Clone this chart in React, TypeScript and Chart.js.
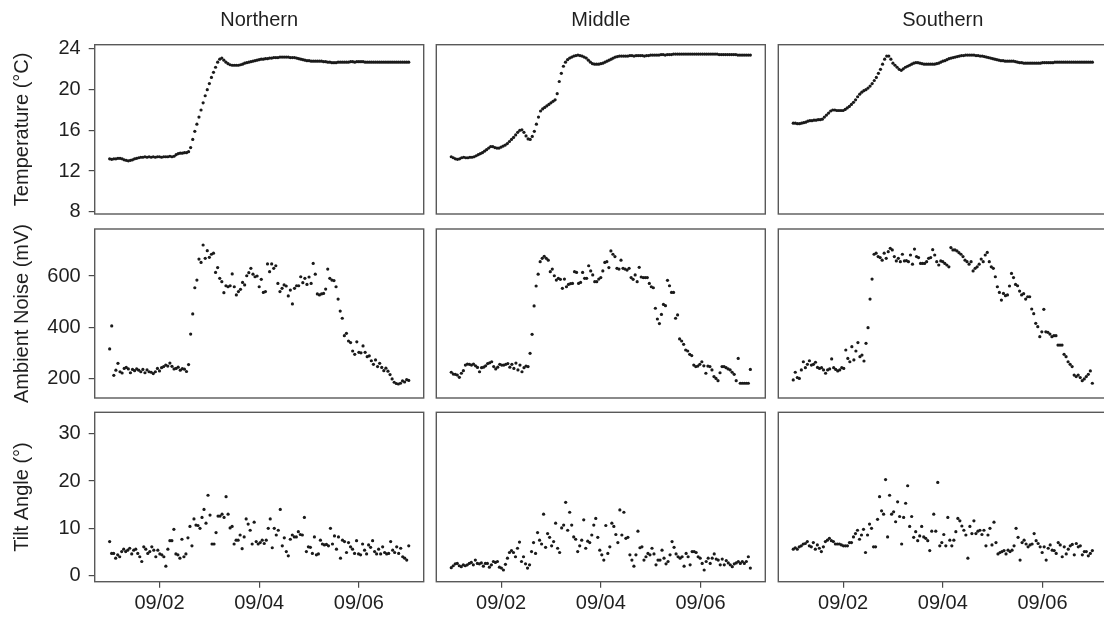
import React, { useEffect, useRef } from 'react';
import { Chart, registerables } from 'chart.js';

Chart.register(...registerables);

// ---------- data ----------
const regions = ['Northern', 'Middle', 'Southern'];
const yTitles = ['Temperature (°C)', 'Ambient Noise (mV)', 'Tilt Angle (°)'];
const xTickHours = [24, 72, 120]; // hours after 09/01 00:00
const xTickLabels = ['09/02', '09/04', '09/06'];
const tempTicks = [8, 12, 16, 20, 24];
const noiseTicks = [200, 400, 600];
const tiltTicks = [0, 10, 20, 30];
const spanHours = 144; // 09/01 00:00 .. 09/07 00:00

const northTemp = [
  13.2, 13.15, 13.2, 13.2, 13.25, 13.25, 13.2, 13.1, 13.05, 13.0,
  13.05, 13.1, 13.2, 13.25, 13.3, 13.35, 13.35,
  13.4, 13.35, 13.4, 13.35, 13.4, 13.35, 13.4, 13.4, 13.35, 13.4, 13.4, 13.4, 13.45, 13.4, 13.45,
  13.6, 13.7, 13.75, 13.75, 13.8, 13.8, 13.9,
  14.3, 15.1, 15.9, 16.6, 17.3, 18.0, 18.7, 19.4, 20.0, 20.6, 21.2, 21.7, 22.2, 22.7, 23.0, 23.1,
  22.9, 22.7, 22.55, 22.45, 22.4, 22.4, 22.4, 22.4, 22.45, 22.5, 22.6, 22.65,
  22.7, 22.75, 22.8, 22.85, 22.9, 22.95, 23.0, 23.0, 23.05, 23.05, 23.1, 23.1, 23.15, 23.15, 23.15, 23.2,
  23.2, 23.2, 23.2, 23.2, 23.15, 23.15, 23.15, 23.1, 23.05, 23.0, 22.95, 22.9, 22.85,
  22.85, 22.8, 22.8, 22.8, 22.8, 22.8, 22.8, 22.75, 22.75, 22.7, 22.7, 22.65, 22.65,
  22.65, 22.7, 22.7, 22.7, 22.7, 22.7, 22.7, 22.75, 22.75, 22.7, 22.75, 22.75, 22.75, 22.75, 22.7, 22.7,
  22.7, 22.7, 22.7, 22.7, 22.7, 22.7, 22.7, 22.7, 22.7, 22.7, 22.7, 22.7, 22.7, 22.7, 22.7, 22.7,
  22.7, 22.7, 22.7, 22.7,
];
const middleTemp = [
  13.4, 13.3, 13.2, 13.15, 13.2, 13.3, 13.35, 13.3, 13.3, 13.35, 13.35,
  13.4, 13.5, 13.6, 13.7, 13.8, 13.95, 14.1, 14.25, 14.4,
  14.4, 14.3, 14.25, 14.25, 14.35, 14.45, 14.55,
  14.7, 14.9, 15.1, 15.3, 15.55, 15.8, 16.0,
  16.05, 15.8, 15.45, 15.15, 15.1, 15.4, 15.9,
  16.6, 17.3, 17.9, 18.1, 18.25, 18.4, 18.55, 18.7, 18.85, 19.0, 19.6,
  20.8, 21.6, 22.3, 22.7, 22.95, 23.1, 23.2, 23.3, 23.35, 23.4,
  23.35, 23.3, 23.2, 23.1, 22.9, 22.7, 22.55, 22.5, 22.5,
  22.5, 22.55, 22.6, 22.7, 22.8, 22.9, 23.0, 23.1, 23.2, 23.25, 23.3,
  23.3, 23.3, 23.3, 23.3, 23.35, 23.35, 23.3, 23.35, 23.35, 23.35, 23.35, 23.3, 23.35,
  23.35, 23.4, 23.4, 23.4, 23.4, 23.4, 23.45, 23.45, 23.4, 23.45, 23.45, 23.45, 23.5, 23.5, 23.5, 23.5,
  23.5, 23.5, 23.5, 23.5, 23.5, 23.5, 23.5, 23.5, 23.5, 23.5, 23.5, 23.5, 23.5, 23.5, 23.5, 23.5, 23.5,
  23.5, 23.45, 23.45, 23.45, 23.45, 23.45, 23.45, 23.45, 23.45, 23.45, 23.4, 23.4, 23.4, 23.4, 23.4,
  23.4, 23.4,
];
const southTemp = [
  16.7, 16.7, 16.65, 16.65, 16.7, 16.75, 16.8,
  16.9, 16.95, 16.95, 17.0, 17.0, 17.05, 17.05, 17.1,
  17.3, 17.5, 17.7, 17.9, 18.0, 18.0, 17.95,
  17.95, 17.95, 17.95, 18.05, 18.2, 18.35,
  18.55, 18.75, 19.0, 19.3, 19.55, 19.75, 19.9, 20.0,
  20.15, 20.35, 20.6, 20.9, 21.2, 21.6, 22.0, 22.5, 23.0,
  23.3, 23.3, 23.0, 22.6,
  22.4, 22.2, 22.0, 21.9, 22.05, 22.2,
  22.3, 22.4, 22.5, 22.6, 22.65, 22.65,
  22.6, 22.55, 22.5, 22.5, 22.5, 22.5, 22.5, 22.5, 22.55, 22.6,
  22.7, 22.8, 22.85, 22.95, 23.05, 23.1, 23.15, 23.2, 23.25, 23.3, 23.35, 23.35, 23.4, 23.4,
  23.4, 23.4, 23.4, 23.35, 23.35, 23.3, 23.3, 23.25, 23.2, 23.15, 23.1,
  23.05, 23.0, 22.95, 22.9, 22.85, 22.85, 22.8, 22.8, 22.8, 22.8, 22.8,
  22.75, 22.7, 22.65, 22.65, 22.6, 22.6, 22.6, 22.6, 22.6, 22.6, 22.6,
  22.6, 22.6, 22.65, 22.65, 22.65, 22.65, 22.65, 22.65, 22.7, 22.7, 22.7, 22.7, 22.7, 22.7,
  22.7, 22.7, 22.7, 22.7, 22.7, 22.7, 22.7, 22.7, 22.7, 22.7, 22.7, 22.7, 22.7,
];

const northNoise = [
  315, 405, 212, 232, 259, 226, 221, 239, 243, 237, 222, 235, 230, 237, 232, 226, 235, 222, 233, 226,
  224, 219, 226, 239, 229, 242, 246, 252, 248, 260, 247, 237, 239, 244,
  232, 238, 236, 227, 254,
  373, 452, 554, 584, 666, 653, 721, 669, 699, 673,
  685, 689, 614, 633, 591, 578, 535, 562, 558, 562,
  608, 558, 526, 539, 548, 575, 565, 601, 613, 630,
  607, 597, 600, 558, 587, 536, 539, 647, 617, 647,
  630, 640, 571, 539, 552, 565, 561, 522, 545, 491,
  552, 562, 562, 597, 574, 591, 567, 596, 571, 649,
  607, 530, 526, 530, 532, 549, 627, 591, 584, 582,
  558, 510, 463, 435, 367, 376, 346, 340, 307, 294,
  343, 302, 300, 327, 302, 285, 288, 269, 255, 272,
  246, 259, 243, 230,
  240, 228, 215, 198, 185, 180, 178, 181, 190, 186, 195, 192,
];
const middleNoise = [
  224, 217, 216, 213, 204, 220, 230, 252, 256, 255, 252, 256, 249, 243, 226, 242, 244, 249, 258, 261,
  265, 246, 237, 244, 255, 252, 252, 255, 258, 244, 255, 239, 260, 233, 252, 226, 242, 248, 246,
  298, 372, 483, 561, 607, 656, 669, 677, 669, 662,
  617, 627, 601, 584, 591, 587, 552, 588, 558, 567,
  570, 571, 617, 614, 571, 575, 614, 591, 591, 640,
  620, 604, 578, 578, 588, 594, 620, 653, 656, 633,
  698, 685, 676, 630, 627, 662, 630, 627, 623, 630,
  594, 587, 604, 578, 634, 596, 594, 594, 594, 571,
  558, 554, 474, 432, 414, 450, 489, 484, 583, 562,
  536, 536, 435, 448, 354, 346, 333, 311, 307, 294,
  289, 252, 246, 248, 255, 265, 249, 220, 248, 246,
  233, 207, 200, 191, 222, 246, 246, 242, 237, 233,
  224, 216, 191, 278, 181, 181, 181, 181, 181, 235,
];
const southNoise = [
  194, 224, 203, 200, 233, 265, 242, 255, 269, 252,
  255, 263, 243, 239, 242, 233, 220, 233, 237, 276,
  242, 235, 229, 233, 242, 239, 311, 278, 265, 324,
  272, 307, 340, 285, 291, 268, 337, 398, 510, 588,
  685, 689, 676, 672, 662, 689, 669, 695, 708, 702,
  676, 659, 669, 656, 685, 659, 660, 656, 682, 646,
  705, 676, 672, 649, 649, 649, 656, 669, 672, 703,
  682, 656, 643, 659, 656, 649, 643, 636, 711, 702,
  702, 698, 691, 685, 676, 662, 656, 646, 656, 620,
  630, 636, 646, 666, 656, 682, 692, 656, 636, 630,
  597, 558, 536, 506, 532, 523, 526, 561, 610, 594,
  567, 562, 541, 526, 531, 510, 519, 519, 471, 453,
  415, 402, 363, 382, 470, 382, 380, 373, 363, 367,
  367, 330, 330, 330, 294, 285, 265, 255, 246, 213,
  207, 213, 203, 191, 198, 207, 216, 229, 181,
];

const northTilt = [
  7.2, 4.7, 4.7, 3.7, 4.4, 4.0, 5.1, 5.6, 5.1, 5.4,
  5.8, 4.6, 5.4, 5.6, 4.7, 4.0, 3.0, 6.1, 5.6, 4.7,
  5.1, 6.1, 5.4, 4.0, 5.4, 4.6, 4.4, 4.0, 2.0, 5.6,
  7.4, 7.4, 9.8, 4.6, 4.4, 3.7, 7.7, 4.0, 4.6, 8.0,
  10.4, 6.3, 12.0, 10.7, 10.6, 10.0, 12.3, 14.0, 11.1, 17.0,
  12.8, 6.7, 6.7, 9.1, 12.6, 12.6, 13.0, 12.3, 16.7, 13.0,
  10.1, 10.4, 6.7, 7.5, 7.5, 8.6, 5.7, 8.2, 12.0, 10.9,
  9.6, 6.7, 11.3, 7.2, 6.7, 7.0, 7.5, 6.8, 7.5, 10.0,
  12.0, 5.9, 10.0, 8.6, 9.6, 14.0, 6.3, 8.0, 5.1, 4.2,
  7.7, 8.6, 8.2, 8.2, 9.3, 8.7, 8.6, 12.3, 5.1, 6.1,
  6.0, 4.7, 8.2, 4.4, 4.6, 7.5, 6.7, 6.5, 6.6, 6.3,
  10.0, 6.7, 8.4, 5.6, 8.2, 3.7, 7.5, 7.2, 4.9, 7.0,
  6.1, 5.6, 4.7, 7.4, 4.6, 4.4, 6.7, 5.4, 4.6, 6.5,
  6.0, 7.4, 5.1, 4.6, 5.6, 4.6, 6.1, 4.9, 4.6, 4.7,
  7.2, 5.4, 4.9, 6.1, 4.7, 5.8, 4.0, 3.7, 3.3, 6.3,
];
const middleTilt = [
  1.7, 2.1, 2.5, 2.6, 2.1, 1.9, 2.3, 2.1, 2.3, 2.6,
  2.8, 2.3, 3.3, 2.6, 2.5, 2.7, 2.0, 2.6, 2.6, 1.8,
  2.3, 3.0, 2.8, 3.0, 1.8, 1.6, 1.2, 2.4, 3.7, 4.9,
  5.3, 4.9, 4.0, 5.8, 7.1, 3.0, 4.0, 2.5, 1.6, 2.3,
  5.1, 7.0, 4.7, 9.1, 7.5, 6.7, 13.0, 6.0, 8.9, 8.1,
  6.3, 7.2, 11.1, 5.8, 4.9, 10.1, 10.7, 15.5, 9.6, 13.4,
  10.7, 8.2, 7.7, 5.1, 6.3, 7.5, 11.8, 5.8, 7.3, 7.0,
  8.6, 10.7, 12.1, 8.1, 5.4, 4.4, 3.3, 10.6, 4.7, 6.1,
  11.1, 10.4, 8.7, 7.0, 13.9, 8.6, 13.4, 7.9, 8.1, 4.4,
  3.3, 2.0, 4.4, 9.4, 5.9, 6.1, 3.3, 4.0, 4.7, 4.4,
  5.8, 4.6, 2.3, 3.3, 3.3, 5.4, 3.7, 2.5, 3.0, 4.4,
  7.2, 6.0, 4.6, 4.0, 3.7, 4.0, 2.0, 4.7, 4.0, 2.3,
  5.1, 5.1, 4.9, 4.0, 3.7, 2.6, 1.2, 3.0, 3.7, 2.6,
  3.7, 4.6, 3.5, 3.3, 2.3, 3.5, 2.3, 3.2, 2.7, 2.3,
  1.9, 2.5, 2.7, 3.0, 2.6, 3.0, 2.6, 3.0, 4.0, 1.6,
];
const southTilt = [
  5.6, 5.9, 5.6, 6.1, 6.3, 6.7, 6.8, 7.2, 6.3, 6.1,
  7.0, 5.6, 6.5, 5.8, 5.1, 6.1, 7.2, 7.5, 7.9, 7.4,
  7.2, 6.7, 6.7, 6.7, 6.5, 6.3, 6.3, 6.3, 7.0, 7.0,
  8.2, 8.9, 9.6, 7.7, 8.6, 9.8, 4.9, 8.6, 10.9, 10.0,
  6.1, 6.1, 11.9, 16.7, 13.7, 13.0, 20.3, 8.2, 17.0, 13.0,
  13.5, 11.4, 15.6, 12.5, 6.7, 12.3, 15.3, 19.0, 10.4, 12.5,
  8.1, 9.3, 7.4, 8.4, 10.4, 8.2, 7.9, 7.4, 5.3, 9.4,
  13.0, 9.4, 19.7, 6.3, 7.0, 8.7, 6.3, 12.3, 7.5, 6.3,
  7.5, 9.3, 12.1, 11.6, 10.5, 9.6, 8.6, 3.7, 10.4, 8.9,
  11.6, 8.9, 9.4, 9.6, 8.7, 9.6, 6.3, 8.6, 10.0, 6.5,
  11.3, 7.0, 4.6, 4.9, 5.1, 5.3, 4.6, 5.4, 5.1, 5.4,
  6.3, 10.0, 8.1, 3.3, 7.0, 7.5, 6.7, 6.1, 6.5, 6.7,
  8.9, 7.4, 6.8, 6.1, 4.9, 6.1, 3.3, 5.8, 6.5, 5.4,
  5.3, 4.7, 7.0, 6.5, 4.0, 6.1, 4.6, 5.6, 6.3, 6.6,
  4.4, 6.8, 6.1, 6.3, 4.4, 5.1, 5.1, 4.2, 4.7, 5.3,
];

const series = [
  [northTemp, middleTemp, southTemp],
  [northNoise, middleNoise, southNoise],
  [northTilt, middleTilt, southTilt],
];
const rowTicks = [tempTicks, noiseTicks, tiltTicks];

// ---------- layout / style ----------
const CW = 1112;
const CH = 617;
const COL_L = [94.7, 436.3, 778.3];
const PANEL_W = 329;
const ROW_T = [44.7, 229, 412.3];
const ROW_B = [214, 398, 581.7];
const Y_RANGES = [
  [7.77, 24.42],
  [123.4, 783.6],
  [-1.27, 34.52],
];
const X_MIN = -7.2;
const X_MAX = 151.2;
const FONT = "'Liberation Sans', Arial, Helvetica, sans-serif";
const TEXT = '#1f1f1f';
const FS = 20;
const STRIP_TOP = 8;

const borderPlugin = {
  id: 'panelBorder',
  afterDraw(chart: any) {
    const { ctx, chartArea: a } = chart;
    ctx.save();
    ctx.strokeStyle = '#595959';
    ctx.lineWidth = 1.4;
    ctx.strokeRect(a.left, a.top, a.right - a.left, a.bottom - a.top);
    ctx.restore();
  },
};

function makeConfig(r: number, c: number): any {
  const vals = series[r][c];
  const n = vals.length;
  const pts = vals.map((v, i) => ({ x: (i * spanHours) / (n - 1), y: v }));
  const isLeft = c === 0;
  const isTop = r === 0;
  const isBottom = r === 2;
  const L = COL_L[c];
  const R = L + PANEL_W;
  const T = ROW_T[r];
  const B = ROW_B[r];
  const lh = FS * 1.2;
  return {
    type: 'scatter',
    data: {
      datasets: [
        {
          data: pts,
          pointRadius: 1.6,
          pointHoverRadius: 0,
          pointBorderWidth: 0,
          backgroundColor: '#1a1a1a',
          borderColor: '#1a1a1a',
        },
      ],
    },
    plugins: [borderPlugin],
    options: {
      responsive: false,
      animation: false,
      events: [],
      layout: {
        padding: {
          left: isLeft ? 0 : L,
          right: CW - R,
          top: isTop ? STRIP_TOP : T,
          bottom: isBottom ? 0 : CH - B,
        },
      },
      plugins: {
        legend: { display: false },
        tooltip: { enabled: false },
        title: {
          display: isTop,
          text: regions[c],
          fullSize: false,
          color: TEXT,
          font: { family: FONT, size: FS, weight: 'normal', lineHeight: 1.2 },
          padding: { top: 0, bottom: T - STRIP_TOP - lh },
        },
      },
      scales: {
        x: {
          type: 'linear',
          min: X_MIN,
          max: X_MAX,
          display: isBottom,
          afterFit: (s: any) => {
            s.height = isBottom ? CH - B : 0;
          },
          afterBuildTicks: (s: any) => {
            s.ticks = xTickHours.map((v) => ({ value: v }));
          },
          grid: {
            display: true,
            drawOnChartArea: false,
            drawTicks: true,
            tickLength: 6,
            color: '#4a4a4a',
            lineWidth: 1.2,
          },
          border: { display: false },
          ticks: {
            autoSkip: false,
            maxRotation: 0,
            padding: 4,
            color: TEXT,
            font: { family: FONT, size: FS },
            callback: (v: number) => xTickLabels[xTickHours.indexOf(v)] ?? '',
          },
        },
        y: {
          type: 'linear',
          min: Y_RANGES[r][0],
          max: Y_RANGES[r][1],
          display: isLeft,
          afterFit: (s: any) => {
            s.width = isLeft ? L : 0;
          },
          afterBuildTicks: (s: any) => {
            s.ticks = rowTicks[r].map((v) => ({ value: v }));
          },
          grid: {
            display: true,
            drawOnChartArea: false,
            drawTicks: true,
            tickLength: 6,
            color: '#4a4a4a',
            lineWidth: 1.2,
          },
          border: { display: false },
          ticks: {
            autoSkip: false,
            padding: 8,
            color: TEXT,
            font: { family: FONT, size: FS },
            callback: (v: number) => String(v),
          },
          title: {
            display: true,
            text: yTitles[r],
            color: TEXT,
            font: { family: FONT, size: FS, lineHeight: 1.2 },
            padding: { top: 10, bottom: 0 },
          },
        },
      },
    },
  };
}

function Panel({ r, c }: { r: number; c: number }) {
  const ref = useRef<HTMLCanvasElement>(null);
  useEffect(() => {
    const chart = new Chart(ref.current as HTMLCanvasElement, makeConfig(r, c));
    return () => chart.destroy();
  }, [r, c]);
  return (
    <canvas
      ref={ref}
      width={CW}
      height={CH}
      style={{ position: 'absolute', left: 0, top: 0, width: CW, height: CH }}
    />
  );
}

export default function App() {
  const cells: React.ReactNode[] = [];
  for (let r = 0; r < 3; r++) {
    for (let c = 0; c < 3; c++) {
      cells.push(<Panel key={`${r}-${c}`} r={r} c={c} />);
    }
  }
  return (
    <div
      style={{
        position: 'absolute',
        left: 0,
        top: 0,
        width: 1104,
        height: 617,
        overflow: 'hidden',
        background: '#ffffff',
      }}
    >
      {cells}
    </div>
  );
}
